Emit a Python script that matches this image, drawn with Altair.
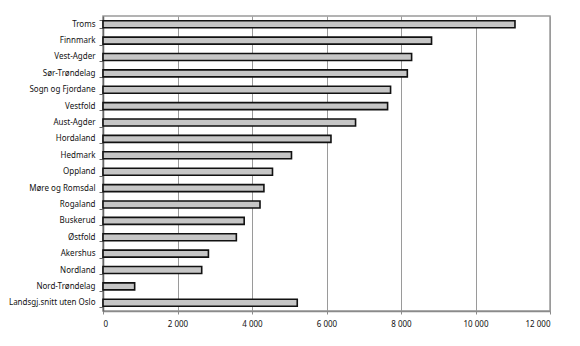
import altair as alt
import pandas as pd

regions = ["Troms", "Finnmark", "Vest-Agder", "Sør-Trøndelag", "Sogn og Fjordane",
           "Vestfold", "Aust-Agder", "Hordaland", "Hedmark", "Oppland",
           "Møre og Romsdal", "Rogaland", "Buskerud", "Østfold", "Akershus",
           "Nordland", "Nord-Trøndelag", "Landsgj.snitt uten Oslo"]
values = [11060, 8820, 8285, 8170, 7720, 7640, 6780, 6120, 5060, 4550,
          4320, 4215, 3790, 3580, 2830, 2650, 850, 5215]
x_ticks = [0, 2000, 4000, 6000, 8000, 10000, 12000]

df = pd.DataFrame({"region": regions, "value": values})

font = "Noto Sans"

chart = alt.Chart(df).mark_bar(
    fill="#c6c6c6", stroke="#111111", strokeWidth=1.6, size=7
).encode(
    x=alt.X("value:Q", scale=alt.Scale(domain=[0, 12000], nice=False),
            axis=alt.Axis(values=x_ticks, title=None, grid=True, gridColor="#9a9a9a",
                          gridWidth=1, domainColor="#8a8a8a", domainWidth=1.5,
                          ticks=True, tickSize=3, tickColor="#8a8a8a",
                          labelFontSize=8, labelFont=font, labelColor="#111",
                          labelPadding=6, labelExpr="replace(format(datum.value, ',d'), ',', ' ')")),
    y=alt.Y("region:N", sort=regions, scale=alt.Scale(paddingInner=0.5, paddingOuter=0.25),
            axis=alt.Axis(title=None, domainColor="#666666", domainWidth=1.5,
                          tickBand="extent", tickColor="#666666", tickSize=4,
                          labelFontSize=8, labelFont=font, labelColor="#111",
                          labelPadding=4)),
).properties(
    width=447, height=295,
    autosize=alt.AutoSizeParams(type="none"),
    padding={"left": 103, "top": 16, "right": 30, "bottom": 35},
).configure_view(stroke="#9a9a9a", strokeWidth=1.5)

chart.save("out.html", embed_options={"renderer": "svg", "actions": False})
